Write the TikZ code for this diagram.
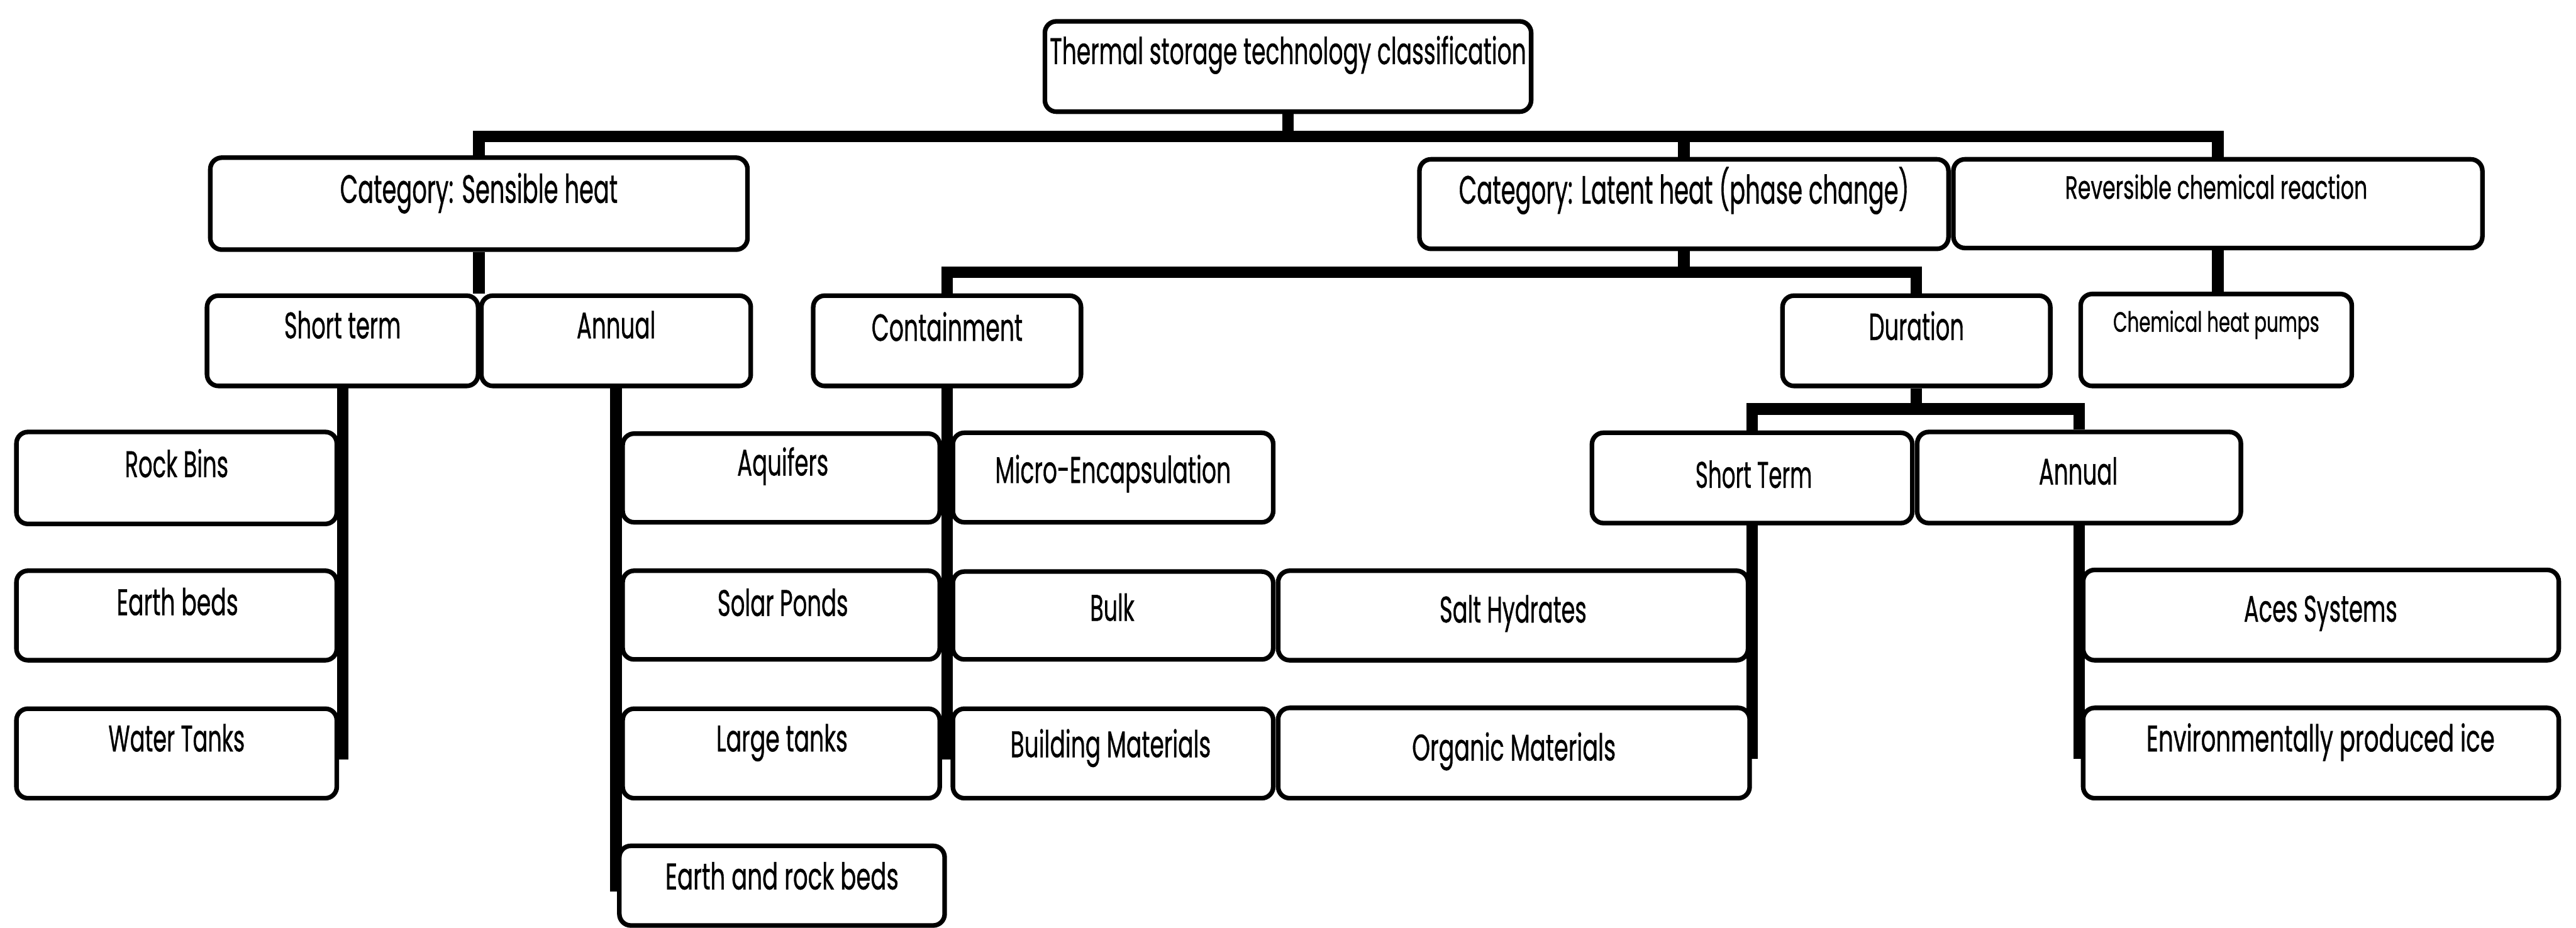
\documentclass[tikz,border=0pt]{standalone}
\usepackage{fontspec}
\setmainfont{Poppins}[FakeBold=0.9]
\usepackage{graphicx}
\newlength\fitlen
\newcommand\fitw[2]{\settowidth\fitlen{#2}\pgfmathsetmacro\fitsx{#1/\fitlen}\scalebox{\fitsx}[1]{#2}}
\pgfdeclarelayer{bg}
\pgfsetlayers{bg,main}
\tikzset{
  box/.style={draw=black, line width=2.8, rounded corners=7, fill=white, inner sep=0},
  txt/.style={anchor=base, inner sep=0, text=black},
  conn/.style={draw=black, line width=7},
  hang/.style={draw=black, line width=7, line cap=rect}
}
\newcommand\bx[5]{\node[box, minimum width={#4-#2}, minimum height={#5-#3}] (#1) at ({(#2+#4)/2},{(#3+#5)/2}) {};}
\newcommand\lbl[6]{\node[txt] (#1) at (#2,#3) {\fontsize{#5}{#5}\selectfont\fitw{#4}{#6}};}
\begin{document}
\begin{tikzpicture}[x=1pt,y=-1pt]
\useasboundingbox (0,0) rectangle (1568,565);
% boxes
\bx{root}{636}{13}{932}{68}
\bx{sens}{128}{96}{455}{152}
\bx{lat}{864}{97}{1186}{151.5}
\bx{rev}{1189}{97}{1511}{151}
\bx{shortS}{126}{180}{291}{235}
\bx{annS}{293}{180}{457}{235}
\bx{cont}{495}{180}{658}{235}
\bx{dur}{1085}{180}{1248}{235}
\bx{chp}{1266.5}{179}{1431.5}{235}
\bx{rock}{10}{263}{205}{319}
\bx{aqu}{379}{264}{572}{318}
\bx{micro}{580}{263.5}{775}{318}
\bx{shortL}{969}{263.5}{1164}{318.5}
\bx{annL}{1167}{263}{1364}{318.5}
\bx{earth}{10}{347.5}{205}{402}
\bx{solar}{379}{347.5}{572}{401.5}
\bx{bulk}{580}{348}{775}{401.5}
\bx{salt}{778}{347.5}{1064}{402}
\bx{aces}{1268}{347}{1557.5}{402}
\bx{water}{10}{431.5}{205}{486}
\bx{large}{379}{431.5}{572}{486}
\bx{build}{580}{431.5}{775}{486}
\bx{organic}{778}{431}{1065}{486}
\bx{ice}{1268}{431}{1557.5}{486}
\bx{erb}{377}{515}{575}{563.5}
% labels
\lbl{root-t}{784}{39}{290}{22.5}{Thermal storage technology classification}
\lbl{sens-t}{291.5}{123.5}{169}{24}{Category: Sensible heat}
\lbl{lat-t}{1025}{124}{274}{24}{Category: Latent heat (phase change)}
\lbl{rev-t}{1349}{121}{184}{19.5}{Reversible chemical reaction}
\lbl{shortS-t}{208.5}{206}{71}{22.5}{Short term}
\lbl{annS-t}{375}{206}{48}{22.5}{Annual}
\lbl{cont-t}{576.5}{207.5}{92}{23}{Containment}
\lbl{dur-t}{1166.5}{207}{58}{23}{Duration}
\lbl{chp-t}{1349}{202}{125.5}{17}{Chemical heat pumps}
\lbl{rock-t}{107.5}{290.5}{63}{22.5}{Rock Bins}
\lbl{aqu-t}{476.5}{289.5}{55.5}{22.5}{Aquifers}
\lbl{micro-t}{677.5}{294}{143.5}{22.5}{Micro-Encapsulation}
\lbl{shortL-t}{1067.5}{297}{71}{22.5}{Short Term}
\lbl{annL-t}{1265}{295}{48}{22.5}{Annual}
\lbl{earth-t}{108}{374.5}{74}{22.5}{Earth beds}
\lbl{solar-t}{476.5}{375}{79.5}{22.5}{Solar Ponds}
\lbl{bulk-t}{677}{378}{27}{22.5}{Bulk}
\lbl{salt-t}{921}{379}{89.5}{22.5}{Salt Hydrates}
\lbl{aces-t}{1412.5}{378.5}{93.4}{22.5}{Aces Systems}
\lbl{water-t}{107.5}{457.5}{83}{22.5}{Water Tanks}
\lbl{large-t}{476}{457.5}{80}{22.5}{Large tanks}
\lbl{build-t}{676}{461}{122}{22.5}{Building Materials}
\lbl{organic-t}{921.5}{463}{124}{22.5}{Organic Materials}
\lbl{ice-t}{1412.5}{457.5}{212}{22.5}{Environmentally produced ice}
\lbl{erb-t}{476}{541.5}{142}{22.5}{Earth and rock beds}
% connectors
\coordinate (barA) at (0,83);
\coordinate (barB) at (0,165.8);
\coordinate (barC) at (0,249);
\begin{pgfonlayer}{bg}
\draw[conn] (root.south) -- (root.south |- barA) -| (sens.north);
\draw[conn] (root.south |- barA) -| (lat.north);
\draw[conn] (root.south |- barA) -| (rev.north);
\draw[conn] (sens.south) -- (sens.south |- shortS.north);
\draw[conn] (lat.south) -- (lat.south |- barB) -| (cont.north);
\draw[conn] (lat.south |- barB) -| (dur.north);
\draw[conn] (rev.south) -- (rev.south |- chp.north);
\draw[conn] (dur.south) -- (dur.south |- barC) -| (shortL.north);
\draw[conn] (dur.south |- barC) -| (annL.north);
\draw[hang] (shortS.south) -- (shortS.south |- water.center);
\draw[hang] (annS.south) -- (annS.south |- erb.center);
\draw[hang] (cont.south) -- (cont.south |- build.center);
\draw[hang] (shortL.south) -- (shortL.south |- organic.center);
\draw[hang] (annL.south) -- (annL.south |- ice.center);
\end{pgfonlayer}
\end{tikzpicture}
\end{document}
